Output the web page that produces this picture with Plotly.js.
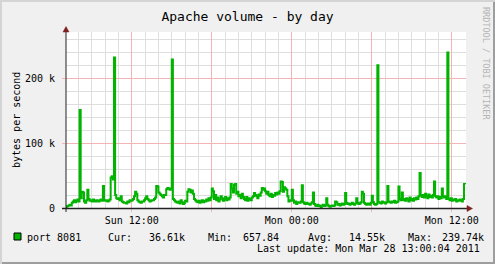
<!DOCTYPE html>
<html>
<head>
<meta charset="utf-8">
<script src="https://cdn.plot.ly/plotly-3.0.1.min.js"></script>
<style>
  html, body { margin: 0; padding: 0; background: #f0f0f0; }
  #wrap { position: relative; width: 495px; height: 264px; background: #f0f0f0;
          box-shadow: inset 2px 2px 0 #d4d4d4, inset -2px -2px 0 #9e9e9e; }
  #chart { position: absolute; left: 0; top: 0; width: 495px; height: 264px; }
</style>
</head>
<body>
<div id="wrap"><div id="chart"></div></div>
<script>
// ---- data: 5-minute samples starting Sun 2011-03-27 07:00 ----
const startTime = Date.UTC(2011, 2, 27, 7, 0, 0);
const stepMinutes = 5;
const bytesPerSecond = [
  1000, 2000, 3000, 4000, 5000, 4000,
  8000, 10000, 12000, 9000, 11000, 13000,
  10000, 151000, 15000, 25000, 24000, 10000, 8000,
  12000, 28000, 14000,
  11000, 12000, 10000, 13000, 11000, 10000, 12000, 11000, 10000, 12000, 13000, 11000,
  34000, 12000,
  11000, 12000, 10000, 11000, 13000,
  47000, 49000, 44000,
  232000,
  20000, 15000, 14000,
  15000, 12000, 18000, 10000, 9000, 8000,
  8000, 7000, 10000, 9000, 12000, 11000,
  12000, 14000, 18000, 25000,
  22000, 12000, 10000, 9000, 8000, 10000,
  10000, 12000, 15000, 18000, 14000, 12000, 10000, 11000, 12000,
  12000, 14000, 16000,
  34000, 33000,
  24000, 22000, 20000,
  18000, 16000, 20000,
  20000, 29000, 31000, 30000, 28000, 30000,
  229000,
  14000, 12000, 10000, 9000,
  8000, 10000, 7000, 12000, 9000, 6000, 8000, 11000, 10000,
  25000, 29000, 28000, 24000, 27000, 22000,
  14000, 12000, 10000, 9000, 11000, 8000, 10000, 12000, 9000, 11000, 10000,
  13000, 11000, 15000, 12000, 16000,
  30000, 26000,
  14000, 20000, 12000, 16000, 10000, 13000, 18000, 15000, 11000, 14000, 17000, 12000, 15000, 13000, 16000,
  37000, 30000, 24000, 36000, 37000,
  22000, 25000, 18000, 20000, 15000, 22000, 17000,
  14000, 12000, 17000, 11000, 15000, 13000, 12000, 16000, 18000, 23000,
  20000, 18000, 15000, 21000, 19000, 24000, 31000,
  28000, 30000, 26000, 22000, 25000, 20000,
  18000, 22000, 17000, 20000, 19000, 23000, 21000,
  24000, 22000, 26000,
  41000, 40000,
  25000, 32000, 30000, 28000,
  18000, 10000, 12000, 11000,
  28000,
  12000, 8000, 10000, 6000, 9000, 8000,
  8000, 10000,
  35000,
  9000, 7000, 6000, 8000, 7000, 6000,
  5000, 7000, 9000,
  24000,
  6000, 4000, 3000, 5000, 4000, 3000, 658, 4000, 5000, 3000, 4000, 15000,
  5000, 3000, 2000, 3000, 4000, 3000,
  4000, 10000, 9000,
  5000, 6000, 4000, 5000, 7000, 5000, 6000,
  23000, 8000,
  6000, 7000, 5000, 6000, 8000, 6000, 5000, 7000,
  15000, 8000, 6000,
  7000, 9000, 25000, 22000,
  8000, 6000, 5000, 7000, 6000, 5000, 8000, 19000, 9000, 6000, 5000, 6000,
  220000,
  9000, 8000, 7000, 10000, 8000, 9000, 7000, 9000,
  34000,
  10000, 9000, 8000, 10000, 9000, 11000, 8000, 9000, 10000,
  33000, 14000, 12000, 24000,
  12000, 14000, 11000, 15000, 13000, 10000, 16000, 12000, 14000, 11000, 15000, 13000,
  16000, 14000, 18000,
  54000, 20000,
  17000, 20000, 16000, 22000, 18000, 15000, 21000, 17000, 19000, 16000,
  20000, 41000, 18000,
  16000, 18000, 14000, 17000, 15000,
  30000, 18000, 16000, 18000, 14000,
  239740,
  14000, 12000, 15000, 11000, 13000, 12000, 14000, 10000, 12000, 11000, 13000, 12000, 10000,
  14000, 37000, 36610
];
const seriesName = "port 8081";
const xTickVals = ["2011-03-27 12:00:00", "2011-03-27 18:00:00", "2011-03-28 00:00:00",
                   "2011-03-28 06:00:00", "2011-03-28 12:00:00"];
const xTickText = ["Sun 12:00", "", "Mon 00:00", "", "Mon 12:00"];
const yTickVals = [0, 100000, 200000];
const yTickText = ["0", "100 k", "200 k"];
const statLabels = ["Cur:", "Min:", "Avg:", "Max:"];
const statValues = ["36.61k", "657.84", "14.55k", "239.74k"];
const lastUpdate = "Last update: Mon Mar 28 13:00:04 2011";
const titleText = "Apache volume - by day";
const yTitle = "bytes per second";
const sideText = "RRDTOOL / TOBI OETIKER";

function fmt(ms) {
  return new Date(ms).toISOString().slice(0, 19).replace("T", " ");
}
const times = bytesPerSecond.map((_, i) => fmt(startTime + i * stepMinutes * 60000));

// ---- layout helpers (pixel -> paper) ----
const L = 66, R = 466, T = 32, B = 208;
const W = 495, H = 264;
const px = x => (x - L) / (R - L);
const py = y => (B - y) / (B - T);
const FONT = "DejaVu Sans Mono";
const GREEN = "#00b400";

const trace = {
  x: times, y: bytesPerSecond, type: "scatter", mode: "lines",
  line: { color: GREEN, width: 2, shape: "hv" },
  name: seriesName, hoverinfo: "skip"
};

const annotations = [];
function txt(text, x, y, xanchor, size, opts) {
  annotations.push(Object.assign({
    text: text, xref: "paper", yref: "paper", x: px(x), y: py(y),
    xanchor: xanchor, yanchor: "middle", showarrow: false,
    font: { family: FONT, size: size, color: "#000" }, borderpad: 0
  }, opts || {}));
}
txt(yTitle, 16, 120, "center", 10, { textangle: -90 });
txt(sideText, 486, 63, "center", 8.5, { textangle: 90, font: { family: FONT, size: 8.5, color: "#b4b4b4" } });
txt(seriesName, 26, 237, "left", 10);
const labelX = [107, 207, 307, 407];
const valueX = [186, 280, 386, 485];
statLabels.forEach((s, i) => {
  txt(s, labelX[i], 237, "left", 10);
  txt(statValues[i], valueX[i], 237, "right", 10);
});
txt(lastUpdate, 481, 248, "right", 10);

const shapes = [
  { type: "rect", xref: "paper", yref: "paper", x0: px(14), x1: px(21), y0: py(233), y1: py(240),
    fillcolor: GREEN, line: { color: "#000", width: 1 } },
  { type: "line", xref: "paper", yref: "paper", x0: px(62), x1: px(468), y0: py(208.5), y1: py(208.5),
    line: { color: "#222", width: 1.5 } },
  { type: "line", xref: "paper", yref: "paper", x0: px(66), x1: px(66), y0: py(212), y1: py(30),
    line: { color: "#222", width: 1 } },
  { type: "path", xref: "paper", yref: "paper",
    path: `M ${px(467)} ${py(205.5)} L ${px(472.5)} ${py(208.5)} L ${px(467)} ${py(211.5)} Z`,
    fillcolor: "#7f1f1f", line: { color: "#7f1f1f", width: 0.5 } },
  { type: "path", xref: "paper", yref: "paper",
    path: `M ${px(63)} ${py(32)} L ${px(66)} ${py(26.5)} L ${px(69)} ${py(32)} Z`,
    fillcolor: "#7f1f1f", line: { color: "#7f1f1f", width: 0.5 } }
];

const layout = {
  width: W, height: H,
  margin: { l: L, r: W - R, t: T, b: H - B, pad: 0 },
  paper_bgcolor: "rgba(0,0,0,0)", plot_bgcolor: "#ffffff",
  showlegend: false,
  title: { text: titleText, x: 0.5, xref: "container", y: 1 - 16 / H, yref: "container",
           xanchor: "center", yanchor: "middle", font: { family: FONT, size: 13, color: "#000" } },
  xaxis: {
    type: "date", range: ["2011-03-27 07:04:00", "2011-03-28 13:04:00"],
    tickmode: "array", tickvals: xTickVals, ticktext: xTickText,
    showgrid: true, gridcolor: "#f2b4b4", gridwidth: 1,
    ticks: "outside", ticklen: 3, tickcolor: "#f2b4b4",
    tickfont: { family: FONT, size: 10, color: "#000" },
    minor: { tickmode: "linear", tick0: "2011-03-27 07:00:00", dtick: 3600000,
             showgrid: true, gridcolor: "#dedede", gridwidth: 1, ticks: "" },
    zeroline: false, showline: false, fixedrange: true
  },
  yaxis: {
    range: [0, 271400],
    tickmode: "array", tickvals: yTickVals, ticktext: yTickText,
    showgrid: true, gridcolor: "#f2b4b4", gridwidth: 1,
    ticks: "outside", ticklen: 3, tickcolor: "#f2b4b4",
    ticklabelstandoff: 5,
    tickfont: { family: FONT, size: 10, color: "#000" },
    minor: { tickmode: "linear", tick0: 0, dtick: 20000,
             showgrid: true, gridcolor: "#dedede", gridwidth: 1, ticks: "" },
    zeroline: false, showline: false, fixedrange: true
  },
  annotations: annotations,
  shapes: shapes
};

Plotly.newPlot("chart", [trace], layout, { staticPlot: true, displayModeBar: false });
</script>
</body>
</html>
